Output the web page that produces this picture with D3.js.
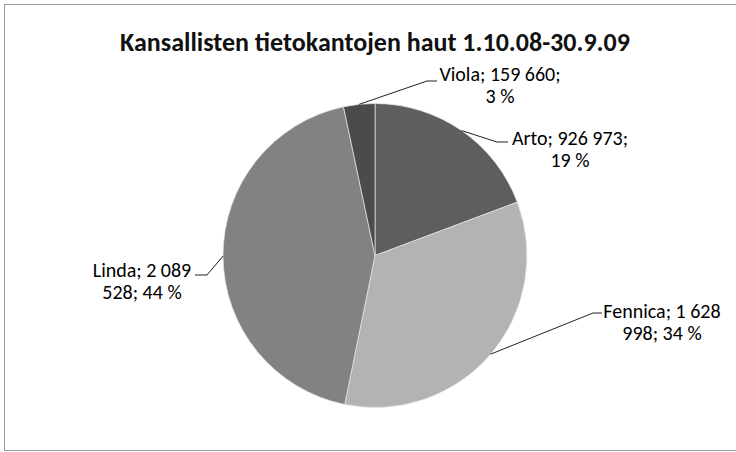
<!DOCTYPE html>
<html>
<head>
<meta charset="utf-8">
<script src="https://cdn.jsdelivr.net/npm/d3@7"></script>
<style>
  body { margin: 0; background: #fff; }
  svg text { font-family: Carlito, Lato, "Liberation Sans", sans-serif; }
</style>
</head>
<body>
<svg id="chart" width="736" height="452"></svg>
<script>
// tiedot
const nimet = ["Arto", "Fennica", "Linda", "Viola"];
const haut = [926973, 1628998, 2089528, 159660];
const arvoTekstit = ["926 973", "1 628 998", "2 089 528", "159 660"];
const osuudet = ["19 %", "34 %", "44 %", "3 %"];
const otsikko = "Kansallisten tietokantojen haut 1.10.08-30.9.09";

const width = 736;
const height = 452;
const cx = 375, cy = 255.5;
const radius = 152;
const colors = ["#5e5e5e", "#b3b3b3", "#828282", "#4b4b4b"];

// label lines are split like in the original (excel wraps them)
const labelLines = [
    [nimet[0] + "; " + arvoTekstit[0] + ";", osuudet[0]],
    [nimet[1] + "; 1 628", "998; " + osuudet[1]],
    [nimet[2] + "; 2 089", "528; " + osuudet[2]],
    [nimet[3] + "; " + arvoTekstit[3] + ";", osuudet[3]]
];
// label placement: text center x, first baseline y, elbow x/y, line end x
const labelPos = [
    { tx: 570, ty: 145, ex: 497, ey: 142, endX: 508 },
    { tx: 662, ty: 318, ex: 593, ey: 313, endX: 602 },
    { tx: 142, ty: 277, ex: 207, ey: 275, endX: 195 },
    { tx: 500, ty: 81, ex: 427, ey: 81, endX: 437 }
];

const svg = d3.select("#chart");

svg.append("rect")
    .attr("x", 4.5)
    .attr("y", 4.5)
    .attr("width", 760)
    .attr("height", 446)
    .attr("fill", "#fff")
    .attr("stroke", "#9a9a9a")
    .attr("stroke-width", 1);

svg.append("text")
    .attr("x", cx)
    .attr("y", 51)
    .attr("text-anchor", "middle")
    .style("font-size", "26px")
    .style("font-weight", "bold")
    .style("fill", "#111")
    .text(otsikko);

const pie = d3.pie().value(d => d).sort(null);
const arc = d3.arc().innerRadius(0).outerRadius(radius);
const edge = d3.arc().innerRadius(radius).outerRadius(radius);

const g = svg.append("g").attr("transform", `translate(${cx}, ${cy})`);

const arcs = pie(haut);

g.selectAll(".slice")
    .data(arcs)
    .enter().append("path")
    .attr("class", "slice")
    .attr("d", arc)
    .attr("fill", (d, i) => colors[i])
    .attr("stroke", "#e8e8e8")
    .attr("stroke-width", 0.7);

// leader lines ja tekstit
arcs.forEach((d, i) => {
    const p = edge.centroid(d);
    const lp = labelPos[i];
    svg.append("polyline")
        .attr("points", `${cx + p[0]},${cy + p[1]} ${lp.ex},${lp.ey} ${lp.endX},${lp.ey}`)
        .attr("fill", "none")
        .attr("stroke", "#222")
        .attr("stroke-width", 1);

    const t = svg.append("text")
        .attr("text-anchor", "middle")
        .style("font-size", "20px")
        .style("fill", "#000");
    labelLines[i].forEach((line, k) => {
        t.append("tspan")
            .attr("x", lp.tx)
            .attr("y", lp.ty + k * 22)
            .text(line);
    });
});
</script>
</body>
</html>
